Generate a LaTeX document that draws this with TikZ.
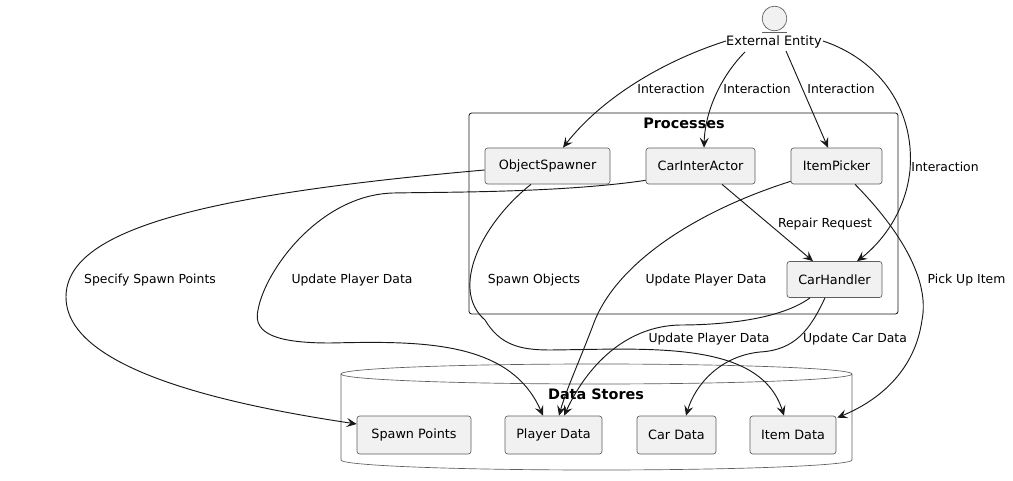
\documentclass[tikz,border=0pt]{standalone}
\usepackage{fontspec}
\setmainfont{DejaVu Sans}
\usetikzlibrary{arrows.meta,calc}
\definecolor{boxfill}{HTML}{F1F1F1}
\definecolor{ln}{HTML}{181818}
\definecolor{bd}{HTML}{5E5E5E}
\begin{document}
\begin{tikzpicture}[x=0.75pt,y=-0.75pt,
  procbox/.style={draw=bd, fill=boxfill, rounded corners=2pt, line width=0.5pt,
    minimum height=27pt, inner sep=0pt, font=\fontsize{9.6}{11}\selectfont},
  storebox/.style={procbox, minimum height=28.5pt},
  lab/.style={font=\fontsize{9.3}{11}\selectfont, inner sep=0pt},
  ttl/.style={font=\fontsize{10.8}{12}\selectfont\bfseries, inner sep=0pt},
  flow/.style={draw=ln, line width=0.7pt, -{Stealth[length=7.5pt,width=6.8pt,inset=3pt]}},
]
\useasboundingbox (0,0) rectangle (1013,481);
\fill[white] (0,0) rectangle (1013,481);

% external entity
\node[draw=bd, fill=boxfill, circle, line width=0.5pt, minimum size=18.5pt, inner sep=0pt] (ent) at (774.5,18.5) {};
\draw[bd, line width=0.6pt] ($(ent.south)+(-12.5,1.5)$) -- ($(ent.south)+(12.5,1.5)$);
\node[font=\fontsize{9.7}{11}\selectfont, inner sep=0pt] (ee) at (774,42) {External Entity};

% processes frame
\node[draw=ln, rounded corners=2pt, line width=0.6pt, minimum width=321.75pt, minimum height=150.75pt, inner sep=0pt] (procs) at (683.5,213.5) {};
\node[ttl] (ptitle) at (684,123) {Processes};

\node[procbox, minimum width=93.75pt] (os) at (547.5,166) {ObjectSpawner};
\node[procbox, minimum width=81.75pt] (ca) at (700.5,166) {CarInterActor};
\node[procbox, minimum width=68.25pt] (ip) at (836.5,166) {ItemPicker};
\node[procbox, minimum width=71.25pt] (ch) at (834.5,279.5) {CarHandler};

% data stores cylinder
\draw[bd, line width=0.5pt] (341,374) -- (341,460) arc[start angle=180, end angle=360, x radius=191.625pt, y radius=7.5pt] -- (852,374);
\draw[bd, line width=0.5pt] (596.5,374) ellipse[x radius=191.625pt, y radius=7.5pt];
\node[ttl] (dtitle) at (596,394) {Data Stores};

\node[storebox, minimum width=85.5pt] (sp) at (414,435) {Spawn Points};
\node[storebox, minimum width=72.75pt] (pd) at (553.5,435) {Player Data};
\node[storebox, minimum width=59.25pt] (cd) at (676.5,435) {Car Data};
\node[storebox, minimum width=64.5pt] (id) at (793,435) {Item Data};

% interactions
\draw[flow] ($(ee)+(-48,-1)$) .. controls (660,62) and (600,100) .. ($(os.north)+(15.5,0)$);
\draw[flow] ($(ee)+(-29,10)$) .. controls (722,75) and (705,110) .. ($(ca.north)+(3.5,0)$);
\draw[flow] ($(ee)+(12,9)$) -- ($(ip.north)+(-8.5,0)$);
\draw[flow] ($(ee)+(49,-1)$) .. controls (880,60) and (915,110) .. (910,170)
   .. controls (905,220) and (872,250) .. ($(ch.north)+(22.5,0)$);
\draw[flow] ($(ca.south)+(21.5,0)$) -- ($(ch.north)+(-21.5,0)$);

% to data stores
\draw[flow] ($(os.west)+(0,4)$) .. controls (200,195) and (66,230) .. (66,297)
   .. controls (66,370) and (230,405) .. ($(sp.west)+(0,-11)$);
\draw[flow] ($(ca.south west)+(0,-4)$) .. controls (560,193) and (440,192) .. (393,193)
   .. controls (320,195) and (265,270) .. (258,310)
   .. controls (252,335) and (280,343) .. (330,343)
   .. controls (420,341) and (510,340) .. ($(pd.north)+(-10.5,0)$);
\draw[flow] ($(os.south)+(-16.5,0)$) .. controls (480,225) and (450,290) .. (485,320)
   .. controls (500,345) and (520,350) .. (550,350)
   .. controls (650,349) and (760,340) .. ($(id.north)+(-9,0)$);
\draw[flow] ($(ip.south west)+(0,-3)$) .. controls (700,210) and (620,260) .. (595,320)
   .. controls (580,360) and (566,390) .. ($(pd.north)+(5.5,0)$);
\draw[flow] ($(ch.south)+(-24.5,0)$) .. controls (780,320) and (720,325) .. (680,325)
   .. controls (630,326) and (590,360) .. ($(pd.north)+(10.5,0)$);
\draw[flow] ($(ch.south)+(-9.5,0)$) .. controls (810,330) and (795,350) .. (760,352)
   .. controls (720,356) and (695,385) .. ($(cd.north)+(9.5,0)$);
\draw[flow] ($(ip.south)+(18.5,0)$) .. controls (900,230) and (930,280) .. (922,320)
   .. controls (915,370) and (880,400) .. ($(id.north east)+(1,2)$);

% labels
\node[lab] (l1) at (671,89) {Interaction};
\node[lab] (l2) at (757,89) {Interaction};
\node[lab] (l3) at (841,89) {Interaction};
\node[lab] (l4) at (945,167) {Interaction};
\node[lab] (l5) at (825,224) {Repair Request};
\node[lab] (l6) at (150,280) {Specify Spawn Points};
\node[lab] (l7) at (352,280) {Update Player Data};
\node[lab] (l8) at (534,280) {Spawn Objects};
\node[lab] (l9) at (706,280) {Update Player Data};
\node[lab] (l10) at (966.5,280) {Pick Up Item};
\node[lab] (l11) at (709,339.5) {Update Player Data};
\node[lab] (l12) at (855,339) {Update Car Data};
\end{tikzpicture}
\end{document}
